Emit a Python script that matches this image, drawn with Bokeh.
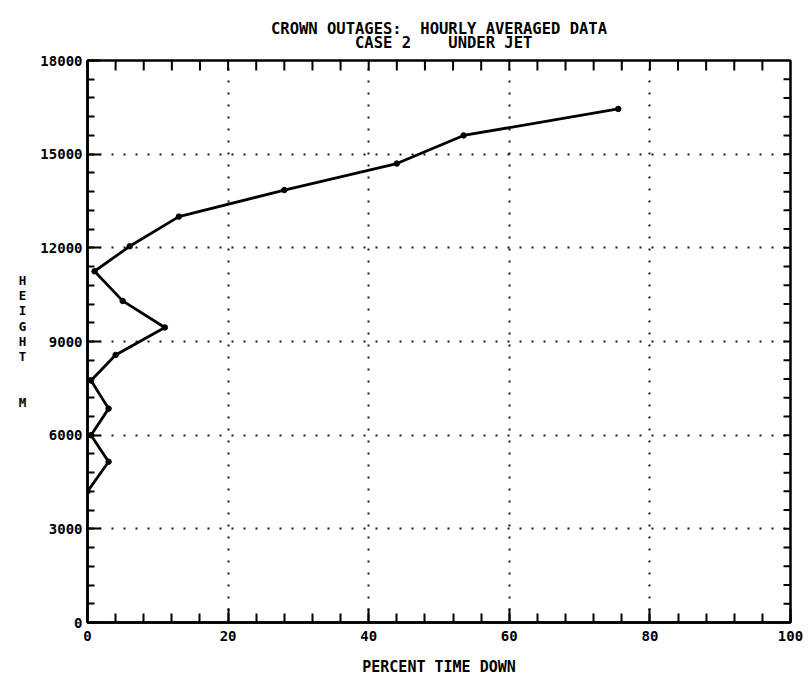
from bokeh.plotting import figure
from bokeh.models import Range1d, FixedTicker
from bokeh.embed import file_html
from bokeh.resources import INLINE

# ---- data / texts ----
title_lines = ["CROWN OUTAGES:  HOURLY AVERAGED DATA", "CASE 2    UNDER JET"]
x_label = "PERCENT TIME DOWN"
y_label_letters = ["H", "E", "I", "G", "H", "T"]
y_unit = "M"
x_ticks = [0, 20, 40, 60, 80, 100]
y_ticks = [0, 3000, 6000, 9000, 12000, 15000, 18000]
percent_down = [0.0, 3.0, 0.5, 3.0, 0.5, 4.0, 11.0, 5.0, 1.0, 6.0, 13.0, 28.0, 44.0, 53.5, 75.5]
height_m = [4200, 5150, 6000, 6850, 7750, 8570, 9450, 10300, 11250, 12050, 13000, 13850, 14700, 15600, 16450]

FONT = "DejaVu Sans Mono"
NBSP = "\u00a0"

W, H = 812, 692
LEFT, RIGHT, TOP, BOTTOM = 87, 22, 60, 70
X0, X1, Y0, Y1 = 0, 100, 0, 18000

p = figure(width=W, height=H, output_backend="svg", toolbar_location=None,
           x_range=Range1d(X0, X1), y_range=Range1d(Y0, Y1),
           min_border_left=LEFT, min_border_right=RIGHT,
           min_border_top=TOP, min_border_bottom=BOTTOM)
p.background_fill_color = "white"
p.border_fill_color = "white"
p.outline_line_color = "black"
p.outline_line_width = 2.5

# title: monospace lines, centred against each other by padding, spaces kept
width_chars = max(len(t) for t in title_lines)
shown = []
for t in title_lines:
    pad = (width_chars - len(t) + 1) // 2
    shown.append((NBSP * pad + t).replace(" ", NBSP))
p.title.text = "\n".join(shown)
p.title.align = "center"
p.title.text_font = FONT
p.title.text_font_style = "bold"
p.title.text_font_size = "15.5px"
p.title.text_color = "black"
p.title.text_line_height = 0.78
p.title.standoff = 16

x_minor = list(range(0, 101, 4))
y_minor = list(range(0, 18001, 600))
xt = FixedTicker(ticks=x_ticks, minor_ticks=x_minor)
yt = FixedTicker(ticks=y_ticks, minor_ticks=y_minor)

def style_axis(ax, ticker, major_in, minor_in):
    ax.ticker = ticker
    ax.axis_line_color = "black"
    ax.axis_line_width = 2.5
    ax.major_tick_line_color = "black"
    ax.major_tick_line_width = 2
    ax.minor_tick_line_color = "black"
    ax.minor_tick_line_width = 2
    ax.major_tick_in = major_in
    ax.major_tick_out = 0
    ax.minor_tick_in = minor_in
    ax.minor_tick_out = 0
    ax.major_label_text_font = FONT
    ax.major_label_text_font_style = "bold"
    ax.major_label_text_font_size = "14px"
    ax.major_label_text_color = "black"

xa = p.xaxis[0]
ya = p.yaxis[0]
style_axis(xa, xt, 14, 9)
style_axis(ya, yt, 13, 7)
xa.major_label_standoff = 8
ya.major_label_standoff = 5
xa.axis_label = x_label
xa.axis_label_text_font = FONT
xa.axis_label_text_font_style = "bold"
xa.axis_label_text_font_size = "15px"
xa.axis_label_text_color = "black"
xa.axis_label_standoff = 14

ya.axis_label = "\n".join(y_label_letters + [NBSP, NBSP, y_unit])
ya.axis_label_orientation = "horizontal"
ya.axis_label_text_font = FONT
ya.axis_label_text_font_style = "bold"
ya.axis_label_text_font_size = "12.5px"
ya.axis_label_text_line_height = 1.02
ya.axis_label_text_color = "black"
ya.axis_label_standoff = 11

# inward ticks on the top and right frame edges
fw = W - LEFT - RIGHT
fh = H - TOP - BOTTOM
top_len = 10 * (Y1 - Y0) / fh
right_len = 7 * (X1 - X0) / fw
top_x = x_minor[1:-1]
p.segment(x0=top_x, y0=[Y1] * len(top_x), x1=top_x, y1=[Y1 - top_len] * len(top_x),
          line_color="black", line_width=2)
right_y = y_minor[1:-1]
p.segment(x0=[X1] * len(right_y), y0=right_y, x1=[X1 - right_len] * len(right_y), y1=right_y,
          line_color="black", line_width=2)

for g, t in ((p.xgrid[0], FixedTicker(ticks=x_ticks[1:-1])), (p.ygrid[0], FixedTicker(ticks=y_ticks[1:-1]))):
    g.ticker = t
    g.grid_line_color = "black"
    g.grid_line_width = 2
    g.grid_line_dash = "2 10"
    g.grid_line_alpha = 0.9

p.line(percent_down, height_m, line_color="black", line_width=2.8)
p.scatter(percent_down, height_m, size=5.5, color="black")

open("out.html", "w").write(file_html(p, INLINE))
